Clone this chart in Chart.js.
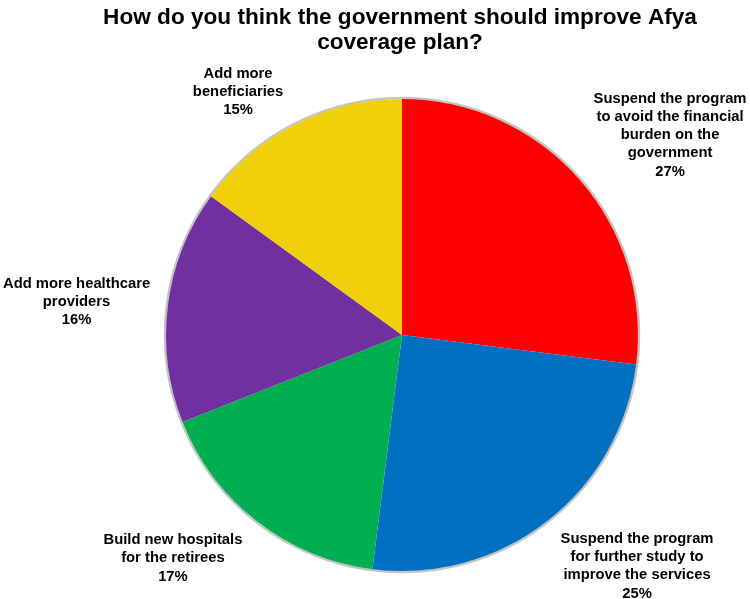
<!DOCTYPE html>
<html>
<head>
<meta charset="utf-8">
<script src="https://cdn.jsdelivr.net/npm/chart.js@4.4.0/dist/chart.umd.min.js"></script>
<style>
  html, body { margin: 0; padding: 0; background: #fff; }
  #wrap { width: 750px; height: 599px; }
</style>
</head>
<body>
<div id="wrap"><canvas id="mycanvas" width="750" height="599"></canvas></div>
<script>
var titleLines = ["How do you think the government should improve Afya", "coverage plan?"];

var categories = [
	["Suspend the program", "to avoid the financial", "burden on the", "government"],
	["Suspend the program", "for further study to", "improve the services"],
	["Build new hospitals", "for the retirees"],
	["Add more healthcare", "providers"],
	["Add more", "beneficiaries"]
];
var percents = [27, 25, 17, 16, 15];
var colors = ["#FF0000", "#0070C0", "#00B050", "#7030A0", "#EFD00A"];

// nudges from the default label spot, px
var labelNudge = [[22, 17], [34, -28], [-28, -36], [0, 8], [-15, 49]];

var FONT = "'Liberation Sans', Arial, sans-serif";

var pieDecor = {
	id: "pieDecor",
	beforeDatasetsDraw: function(chart) {
		var arc = chart.getDatasetMeta(0).data[0];
		if (!arc) return;
		var ctx = chart.ctx;
		ctx.save();
		ctx.beginPath();
		ctx.arc(arc.x, arc.y, arc.outerRadius + 1, 0, Math.PI * 2);
		ctx.strokeStyle = "#c4c4c4";
		ctx.lineWidth = 2.5;
		ctx.stroke();
		ctx.restore();
	},
	afterDraw: function(chart) {
		var ctx = chart.ctx;
		ctx.save();
		ctx.fillStyle = "#000";
		ctx.textAlign = "center";
		ctx.textBaseline = "middle";

		ctx.font = "bold 22.6px " + FONT;
		ctx.fillText(titleLines[0], 400, 18);
		ctx.fillText(titleLines[1], 400, 43);

		ctx.font = "bold 14.8px " + FONT;
		var meta = chart.getDatasetMeta(0);
		meta.data.forEach(function(arc, i) {
			var mid = (arc.startAngle + arc.endAngle) / 2;
			var d = arc.outerRadius * 1.39;
			var cx = arc.x + Math.cos(mid) * d + labelNudge[i][0];
			var cy = arc.y + Math.sin(mid) * d + labelNudge[i][1];
			var lines = categories[i].concat([percents[i] + "%"]);
			var lh = 18.3;
			var y0 = cy - (lines.length - 1) * lh / 2;
			lines.forEach(function(t, j) {
				ctx.fillText(t, cx, y0 + j * lh);
			});
		});
		ctx.restore();
	}
};

var ctx = document.getElementById("mycanvas");
var PieChart = new Chart(ctx, {
	type: "pie",
	data: {
		labels: categories.map(function(c) { return c.join(" "); }),
		datasets: [{
			data: percents,
			backgroundColor: colors,
			borderWidth: 0
		}]
	},
	options: {
		responsive: false,
		animation: false,
		layout: { padding: { top: 99, bottom: 28, left: 166, right: 112 } },
		plugins: {
			legend: { display: false },
			tooltip: { enabled: false },
			title: { display: false }
		}
	},
	plugins: [pieDecor]
});
</script>
</body>
</html>
